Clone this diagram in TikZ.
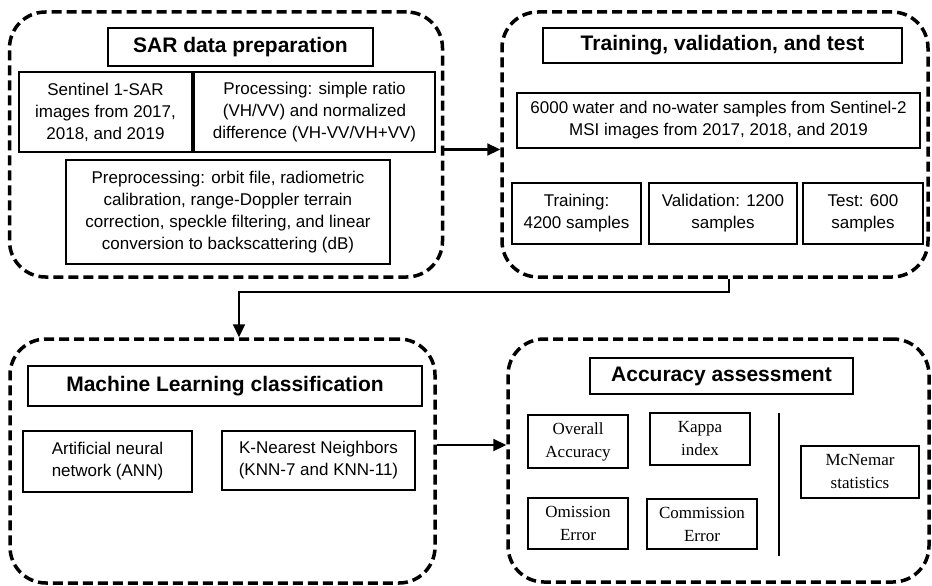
\documentclass[tikz,border=0pt]{standalone}
\usepackage{fontspec}
\setmainfont{Liberation Sans}
\newfontfamily\serifrm{Liberation Serif}
\usetikzlibrary{arrows.meta,calc}
\tikzset{
  outerbox/.style={draw, line width=3.5pt, dash pattern=on 10pt off 5pt, rounded corners=36pt, inner sep=0pt},
  box/.style={draw, line width=1.6pt, inner sep=2pt, align=center, font=\fontsize{17}{22}\selectfont},
  sbox/.style={box, font=\serifrm\fontsize{17}{23}\selectfont},
  titlebox/.style={draw, line width=1.6pt, inner sep=2pt, align=center, font=\bfseries\fontsize{21}{25}\selectfont},
  arr/.style={line width=2.2pt, -{Triangle[length=13pt,width=12pt]}},
}
\begin{document}
\begin{tikzpicture}[x=1pt,y=-1pt]
\useasboundingbox (0,0) rectangle (932,586);
% panel 1
\node[outerbox, minimum width=433pt, minimum height=265pt] (out1) at (226,144.5) {};
\node[titlebox, minimum width=265pt, minimum height=38pt] (t1) at (240.5,47) {SAR data preparation};
\node[box, minimum width=173pt, minimum height=80pt] (sent) at (105.5,112) {Sentinel 1-SAR\\images from 2017,\\2018, and 2019};
\node[box, minimum width=241pt, minimum height=80pt] (proc) at (314.5,112) {Processing: simple ratio\\(VH/VV) and normalized\\difference (VH-VV/VH+VV)};
\node[box, minimum width=324pt, minimum height=104pt] (prep) at (228,212) {Preprocessing: orbit file, radiometric\\calibration, range-Doppler terrain\\correction, speckle filtering, and linear\\conversion to backscattering (dB)};
% panel 2
\node[outerbox, minimum width=426pt, minimum height=265pt] (out2) at (715,144.5) {};
\node[titlebox, minimum width=359pt, minimum height=35pt] (t2) at (722.5,45.5) {Training, validation, and test};
\node[box, minimum width=403pt, minimum height=55pt] (samp) at (718.5,120.5) {6000 water and no-water samples from Sentinel-2\\MSI images from 2017, 2018, and 2019};
\node[box, minimum width=129pt, minimum height=61pt] (train) at (576.5,213.5) {Training:\\4200 samples};
\node[box, minimum width=148pt, minimum height=61pt] (val) at (723,213.5) {Validation: 1200\\samples};
\node[box, minimum width=120pt, minimum height=61pt] (test) at (863,213.5) {Test: 600\\samples};
% panel 3
\node[outerbox, minimum width=425pt, minimum height=244pt] (out3) at (222.5,461) {};
\node[titlebox, minimum width=394pt, minimum height=40pt] (t3) at (225,386) {Machine Learning classification};
\node[box, minimum width=169pt, minimum height=61pt] (ann) at (107.5,461.5) {Artificial neural\\network (ANN)};
\node[box, minimum width=193pt, minimum height=59pt] (knn) at (318.5,460.5) {K-Nearest Neighbors\\(KNN-7 and KNN-11)};
% panel 4
\node[outerbox, minimum width=421pt, minimum height=243pt] (out4) at (718.5,460.5) {};
\node[titlebox, minimum width=263pt, minimum height=36pt] (t4) at (721.5,376) {Accuracy assessment};
\node[sbox, minimum width=100pt, minimum height=53pt] (oa) at (578,441.5) {Overall\\Accuracy};
\node[sbox, minimum width=100pt, minimum height=52pt] (kap) at (700,439) {Kappa\\index};
\node[sbox, minimum width=100pt, minimum height=51pt] (om) at (578,523.5) {Omission\\Error};
\node[sbox, minimum width=110pt, minimum height=50pt] (com) at (702,524) {Commission\\Error};
\node[sbox, minimum width=118pt, minimum height=52pt] (mcn) at (860,472) {McNemar\\statistics};
\coordinate (sepT) at (779,413);
\coordinate (sepB) at (779,556);
\draw[line width=1.6pt] (sepT) -- (sepB);
% connectors
\coordinate (bend) at (0,292);
\draw[arr] ([yshift=-5pt]out1.east) -- ([yshift=-5pt]out2.west);
\draw[arr] ([xshift=14pt]out2.south) |- ([xshift=16.5pt]out3.north |- bend) -- ([xshift=16.5pt]out3.north);
\draw[arr] ([yshift=16pt]out3.east) -- ([yshift=15.5pt]out4.west);
\end{tikzpicture}
\end{document}
